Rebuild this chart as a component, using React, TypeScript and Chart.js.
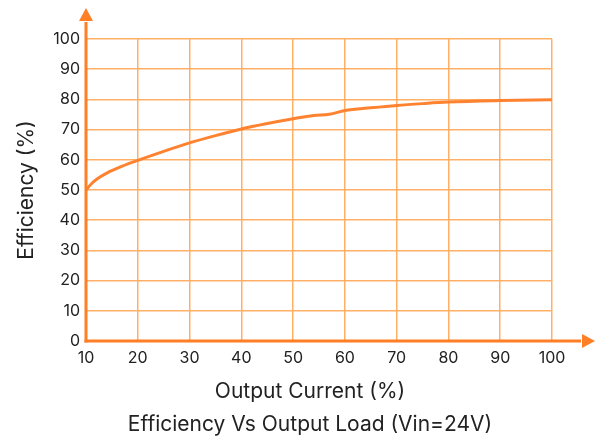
import React, { useEffect, useRef } from "react";
import { Chart, registerables } from "chart.js";

Chart.register(...registerables);

const loadPercent = [10, 11, 12, 14, 17, 20, 25, 30, 35, 40, 45, 50, 54, 57, 60, 65, 70, 75, 80, 90, 100];
const efficiency = [50, 52, 53.5, 55.6, 57.9, 59.8, 62.8, 65.6, 68, 70.2, 72, 73.6, 74.7, 75.1, 76.3, 77.2, 78, 78.6, 79.1, 79.6, 79.9];
const xTicks = [10, 20, 30, 40, 50, 60, 70, 80, 90, 100];
const yTicks = [0, 10, 20, 30, 40, 50, 60, 70, 80, 90, 100];
const xTitle = "Output Current (%)";
const yTitle = "Efficiency (%)";
const caption = "Efficiency Vs Output Load (Vin=24V)";

const AXIS = "#FF7F27";
const GRID = "#FFB066";
const LINE = "#FF8230";
const TEXT = "#222222";
const FONT = "Inter, 'Noto Sans', sans-serif";

const arrowAxes = {
  id: "arrowAxes",
  afterDatasetsDraw(chart: any) {
    const { ctx, chartArea } = chart;
    const { left, right, top, bottom } = chartArea;
    ctx.save();
    ctx.strokeStyle = AXIS;
    ctx.fillStyle = AXIS;
    ctx.lineWidth = 3;
    ctx.lineCap = "butt";
    // y axis
    const yTip = top - 31;
    const yBase = top - 18;
    ctx.beginPath();
    ctx.moveTo(left, bottom + 1.5);
    ctx.lineTo(left, yBase + 1);
    ctx.stroke();
    ctx.beginPath();
    ctx.moveTo(left, yTip);
    ctx.lineTo(left - 7, yBase);
    ctx.lineTo(left + 7, yBase);
    ctx.closePath();
    ctx.fill();
    // x axis
    const xTip = right + 43;
    const xBase = right + 30;
    ctx.beginPath();
    ctx.moveTo(left - 1.5, bottom);
    ctx.lineTo(xBase - 1, bottom);
    ctx.stroke();
    ctx.beginPath();
    ctx.moveTo(xTip, bottom);
    ctx.lineTo(xBase, bottom - 7);
    ctx.lineTo(xBase, bottom + 7);
    ctx.closePath();
    ctx.fill();
    ctx.restore();
  },
};

const bottomTexts = {
  id: "bottomTexts",
  afterDraw(chart: any) {
    const { ctx, chartArea } = chart;
    const cx = (chartArea.left + chartArea.right) / 2 - 9;
    ctx.save();
    ctx.fillStyle = TEXT;
    ctx.font = `21px ${FONT}`;
    ctx.textAlign = "center";
    ctx.textBaseline = "alphabetic";
    ctx.fillText(xTitle, cx, chartArea.bottom + 56.5);
    ctx.fillText(caption, cx, chartArea.bottom + 89.5);
    ctx.restore();
  },
};

export default function App() {
  const ref = useRef<HTMLCanvasElement | null>(null);

  useEffect(() => {
    if (!ref.current) return;
    const chart = new Chart(ref.current, {
      type: "line",
      data: {
        datasets: [
          {
            data: loadPercent.map((x, i) => ({ x, y: efficiency[i] })),
            borderColor: LINE,
            borderWidth: 3,
            pointRadius: 0,
            cubicInterpolationMode: "monotone",
            fill: false,
          },
        ],
      },
      options: {
        animation: false,
        responsive: false,
        layout: { padding: { top: 39, right: 51, bottom: 0, left: 0 } },
        plugins: {
          legend: { display: false },
          tooltip: { enabled: false },
          title: { display: false },
        },
        scales: {
          x: {
            type: "linear",
            min: 10,
            max: 100,
            afterBuildTicks: (s: any) => {
              s.ticks = xTicks.map((v) => ({ value: v }));
            },
            afterFit: (s: any) => {
              s.height = 96;
            },
            grid: { color: GRID, lineWidth: 1.5, drawTicks: false },
            border: { display: false },
            ticks: {
              color: TEXT,
              font: { family: FONT, size: 16 },
              padding: 8,
              maxRotation: 0,
              autoSkip: false,
            },
          },
          y: {
            type: "linear",
            min: 0,
            max: 100,
            afterBuildTicks: (s: any) => {
              s.ticks = yTicks.map((v) => ({ value: v }));
            },
            afterFit: (s: any) => {
              s.width = 86;
            },
            grid: { color: GRID, lineWidth: 1.5, drawTicks: false },
            border: { display: false },
            ticks: {
              color: TEXT,
              font: { family: FONT, size: 16 },
              padding: 6,
              autoSkip: false,
            },
            title: {
              display: true,
              text: yTitle,
              color: TEXT,
              font: { family: FONT, size: 21, lineHeight: 1.2 },
              padding: { top: 14.4, bottom: 0 },
            },
          },
        },
      },
      plugins: [arrowAxes, bottomTexts],
    } as any);
    return () => chart.destroy();
  }, []);

  return (
    <div style={{ position: "fixed", left: 0, top: 0, width: 603, height: 437, background: "#fff" }}>
      <canvas ref={ref} width={603} height={437} />
    </div>
  );
}
